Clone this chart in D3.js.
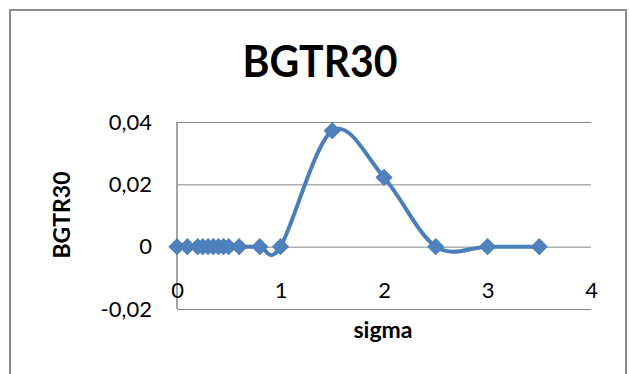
<!DOCTYPE html>
<html>
<head>
<meta charset="utf-8">
<script src="https://cdn.jsdelivr.net/npm/d3@7"></script>
<style>
  body { margin: 0; background: #fff; }
  svg { display: block; font-family: Lato, "Open Sans", sans-serif; }
</style>
</head>
<body>
<div id="chart"></div>
<script>
// data
const sigma = [0, 0.1, 0.2, 0.25, 0.3, 0.35, 0.4, 0.45, 0.5, 0.6, 0.8, 1, 1.5, 2, 2.5, 3, 3.5];
const bgtr30 = [0, 0, 0, 0, 0, 0, 0, 0, 0, 0, 0, 0, 0.0372, 0.0222, 0, 0, 0];
const xTicks = [0, 1, 2, 3, 4];
const yTicks = [-0.02, 0, 0.02, 0.04];

const width = 630;
const height = 374;

// plot area (note: `top` is taken by window.top)
const plotLeft = 177;
const plotRight = 591;
const plotTop = 122;
const plotBottom = 309;

const blue = "#4a7ebb";
const gridColor = "#868686";

const x = d3.scaleLinear().domain([0, 4]).range([plotLeft, plotRight]);
const y = d3.scaleLinear().domain([-0.02, 0.04]).range([plotBottom, plotTop]);

const svg = d3.create("svg").attr("width", width).attr("height", height);

// outer chart border
svg
  .append("rect")
  .attr("x", 10)
  .attr("y", 10)
  .attr("width", 616)
  .attr("height", 380)
  .attr("fill", "white")
  .attr("stroke", "#8c8c8c")
  .attr("stroke-width", 2);

// horizontal gridlines + value labels
const yAxis = svg
  .append("g")
  .attr("transform", `translate(${plotLeft},0)`)
  .call(
    d3
      .axisLeft(y)
      .tickValues(yTicks)
      .tickSize(-(plotRight - plotLeft))
      .tickPadding(25)
      .tickFormat((d) => (d === 0 ? "0" : d.toFixed(2).replace(".", ","))),
  );
yAxis.select(".domain").remove();
yAxis.selectAll("line").attr("stroke", gridColor).attr("stroke-width", 1);
yAxis.selectAll("text").attr("font-size", 22).attr("fill", "#000").attr("font-family", "Lato");

// vertical axis line
svg
  .append("line")
  .attr("x1", plotLeft)
  .attr("x2", plotLeft)
  .attr("y1", plotTop)
  .attr("y2", plotBottom)
  .attr("stroke", gridColor)
  .attr("stroke-width", 1.5);

// x labels sit above the bottom line (like the excel original)
const xAxis = svg
  .append("g")
  .attr("transform", `translate(0,290)`)
  .call(d3.axisBottom(x).tickValues(xTicks).tickSize(0).tickFormat(d3.format("d")));
xAxis.select(".domain").remove();
xAxis
  .selectAll("text")
  .attr("y", 0)
  .attr("dy", "0.36em")
  .attr("font-size", 22)
  .attr("fill", "#000")
  .attr("font-family", "Lato");

// smoothed line
const points = sigma.map((s, i) => [x(s), y(bgtr30[i])]);
const line = d3.line().curve(d3.curveCardinal.tension(0));
svg
  .append("path")
  .attr("d", line(points))
  .attr("fill", "none")
  .attr("stroke", blue)
  .attr("stroke-width", 4)
  .attr("stroke-linejoin", "round");

// diamond markers
const diamond = d3.symbol().type(d3.symbolSquare).size(125);
svg
  .append("g")
  .selectAll("path")
  .data(points)
  .join("path")
  .attr("d", diamond)
  .attr("transform", ([px, py]) => `translate(${px},${py}) rotate(45)`)
  .attr("fill", "#4f81bd")
  .attr("stroke", blue)
  .attr("stroke-width", 1);

// titles
svg
  .append("text")
  .attr("x", 320)
  .attr("y", 77)
  .attr("text-anchor", "middle")
  .attr("font-size", 43)
  .attr("font-weight", "bold")
  .attr("textLength", 155)
  .attr("lengthAdjust", "spacingAndGlyphs")
  .text("BGTR30");

svg
  .append("text")
  .attr("x", 383)
  .attr("y", 338)
  .attr("text-anchor", "middle")
  .attr("font-size", 23)
  .attr("font-weight", "bold")
  .text("sigma");

svg
  .append("text")
  .attr("transform", "translate(70,215) rotate(-90)")
  .attr("text-anchor", "middle")
  .attr("font-size", 23)
  .attr("font-weight", "bold")
  .text("BGTR30");

document.getElementById("chart").append(svg.node());
</script>
</body>
</html>
